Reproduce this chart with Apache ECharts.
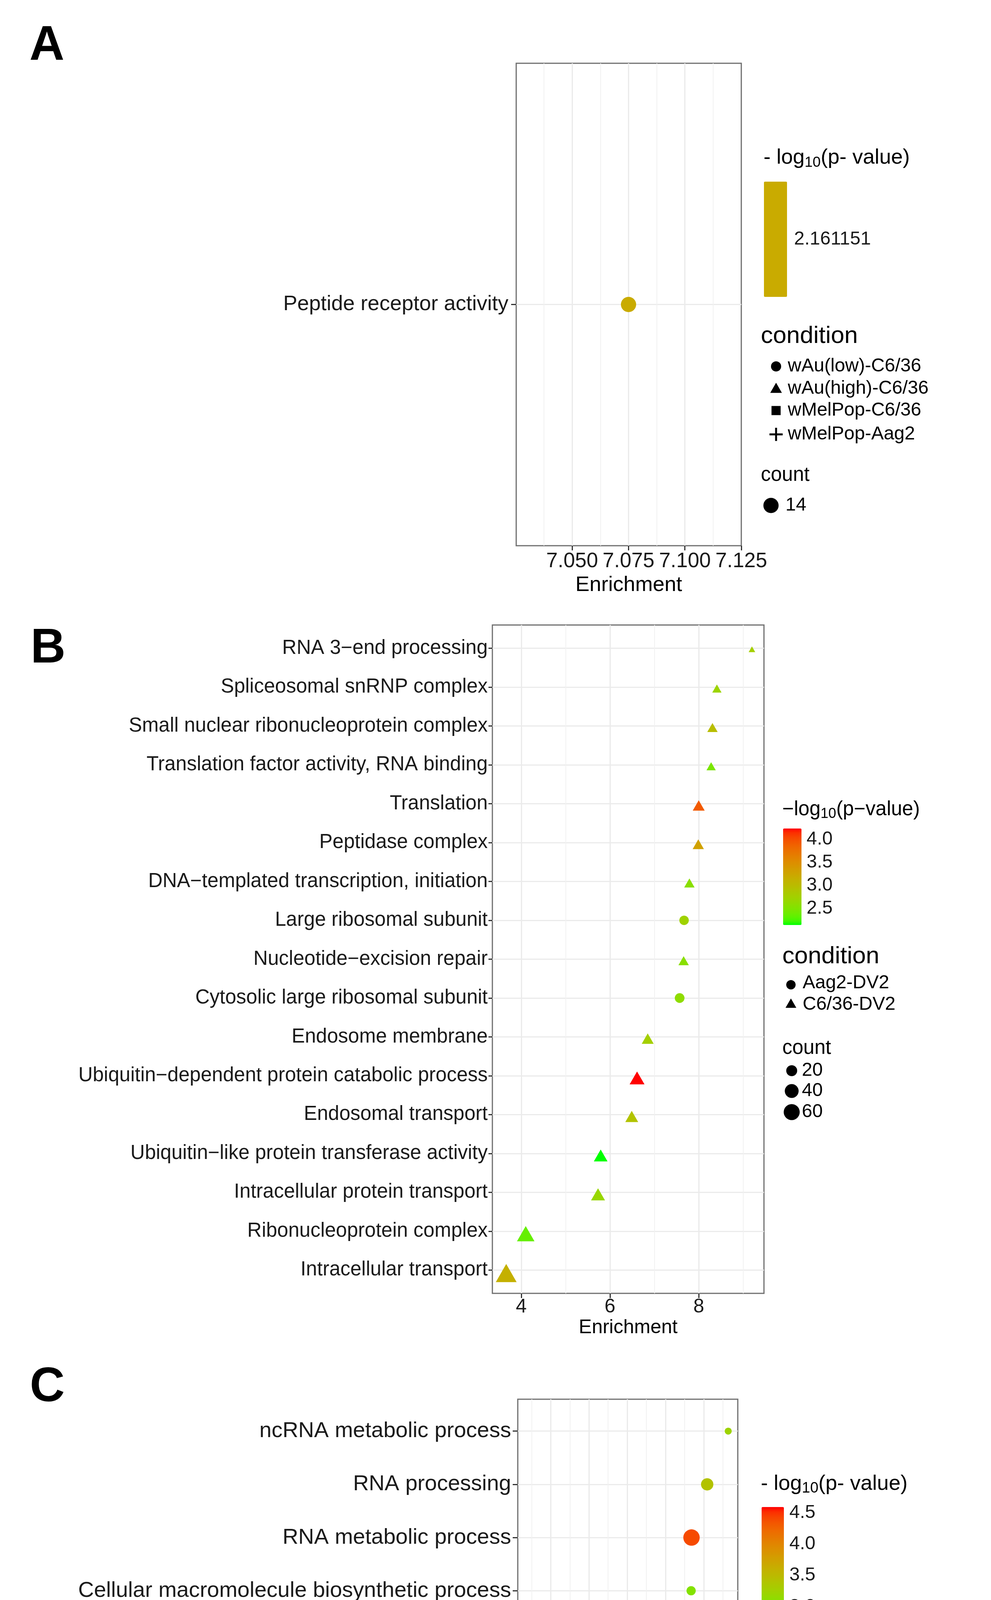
<!DOCTYPE html>
<html><head><meta charset="utf-8">
<script src="https://cdn.jsdelivr.net/npm/echarts@6/dist/echarts.min.js"></script>
<style>html,body{margin:0;padding:0;background:#fff}#c{width:2536px;height:5014px}</style>
</head><body><div id="c"></div>
<script>
// ================= DATA =================
// Panel A
const termsA = ['Peptide receptor activity'];
const enrichA = [7.075];
const pvalA = [2.161151];
const countA = [14];
const condA = [0];
const conditionsA = ['wAu(low)-C6/36', 'wAu(high)-C6/36', 'wMelPop-C6/36', 'wMelPop-Aag2'];
const xTicksA = [7.050, 7.075, 7.100, 7.125];
const pTicksA = [2.161151];
const countBreaksA = [14];

// Panel B
const termsB = ['RNA 3\u2212end processing', 'Spliceosomal snRNP complex', 'Small nuclear ribonucleoprotein complex',
  'Translation factor activity, RNA binding', 'Translation', 'Peptidase complex',
  'DNA\u2212templated transcription, initiation', 'Large ribosomal subunit', 'Nucleotide\u2212excision repair',
  'Cytosolic large ribosomal subunit', 'Endosome membrane', 'Ubiquitin\u2212dependent protein catabolic process',
  'Endosomal transport', 'Ubiquitin\u2212like protein transferase activity', 'Intracellular protein transport',
  'Ribonucleoprotein complex', 'Intracellular transport'];
const enrichB = [9.20, 8.41, 8.31, 8.28, 8.00, 7.99, 7.79, 7.67, 7.66, 7.57, 6.85, 6.61, 6.49, 5.79, 5.73, 4.10, 3.66];
const pvalB = [2.77, 2.70, 2.98, 2.46, 3.93, 3.30, 2.56, 2.73, 2.56, 2.60, 2.77, 4.24, 2.92, 2.14, 2.66, 2.35, 3.13];
const countB = [4, 6, 8, 6, 12, 10, 8, 13, 8, 14, 12, 23, 15, 18, 19, 37, 60];
const condB = [1, 1, 1, 1, 1, 1, 1, 0, 1, 0, 1, 1, 1, 1, 1, 1, 1];
const conditionsB = ['Aag2-DV2', 'C6/36-DV2'];
const xTicksB = [4, 6, 8];
const pTicksB = [2.5, 3.0, 3.5, 4.0];
const countBreaksB = [20, 40, 60];

// Panel C
const termsC = ['ncRNA metabolic process', 'RNA processing', 'RNA metabolic process',
  'Cellular macromolecule biosynthetic process', 'Gene expression', 'Macromolecule biosynthetic process',
  'Nuclear protein- containing complex', 'Nucleic acid metabolic process', 'Extracellular region'];
const enrichC = [5.64, 5.09, 4.68, 4.67, 4.54, 3.98, 3.99, 3.79, 0.38];
const pvalC = [3.22, 3.41, 4.40, 3.05, 4.21, 2.71, 3.39, 4.59, 3.41];
const countC = [17, 46, 108, 22, 132, 74, 132, 150, 128];
const condC = [0, 0, 0, 0, 0, 0, 0, 0, 0];
const conditionsC = ['wMelPop-C6/36-DV2', 'wAu(high)-C6/36-DV2', 'wAu(low)-C6/36-DV2', 'wMelPop-Aag2-DV2'];
const xTicksC = [1, 2, 3, 4, 5];
const pTicksC = [3.0, 3.5, 4.0, 4.5];
const countBreaksC = [100, 150];

// ================= STYLE / LAYOUT =================
const FONT = '"Liberation Sans", Arial, Helvetica, sans-serif';
const SHAPES = ['circle', 'triangle', 'rect', 'plus'];

function srgb2lin(c){c/=255;return c<=0.04045?c/12.92:Math.pow((c+0.055)/1.055,2.4);}
function lin2srgb(c){c=c<=0.0031308?12.92*c:1.055*Math.pow(Math.max(c,0),1/2.4)-0.055;return Math.round(Math.min(1,Math.max(0,c))*255);}
const WN=[0.95047,1,1.08883];
function fL(t){return t>0.008856?Math.cbrt(t):7.787*t+16/116;}
function fLi(t){const t3=t*t*t;return t3>0.008856?t3:(t-16/116)/7.787;}
function hex2rgb(h){return [1,3,5].map(k=>parseInt(h.slice(k,k+2),16));}
function rgb2lab(rgb){const [R,G,B]=rgb.map(srgb2lin);
  const X=0.4124564*R+0.3575761*G+0.1804375*B,Y=0.2126729*R+0.7151522*G+0.0721750*B,Z=0.0193339*R+0.1191920*G+0.9503041*B;
  const fx=fL(X/WN[0]),fy=fL(Y/WN[1]),fz=fL(Z/WN[2]);return [116*fy-16,500*(fx-fy),200*(fy-fz)];}
function lab2hex(lab){const [L,a,b]=lab;const fy=(L+16)/116,fx=fy+a/500,fz=fy-b/200;
  const X=WN[0]*fLi(fx),Y=WN[1]*fLi(fy),Z=WN[2]*fLi(fz);
  const R=3.2404542*X-1.5371385*Y-0.4985314*Z,G=-0.9692660*X+1.8760108*Y+0.0415560*Z,B=0.0556434*X-0.2040259*Y+1.0572252*Z;
  return '#'+[R,G,B].map(v=>lin2srgb(v).toString(16).padStart(2,'0')).join('');}
function labRamp(lo,hi,n){const A=rgb2lab(hex2rgb(lo)),B=rgb2lab(hex2rgb(hi));const out=[];
  for(let i=0;i<n;i++){const t=i/(n-1);out.push(lab2hex(A.map((v,k)=>v+(B[k]-v)*t)));}return out;}
const RAMP = labRamp('#00ff00', '#ff0000', 25);
const MID = labRamp('#00ff00', '#ff0000', 3)[1];

const panels = [
  { terms: termsA, x: enrichA, p: pvalA, n: countA, cond: condA, conds: conditionsA,
    xTicks: xTicksA, pTicks: pTicksA, breaks: countBreaksA, xStep: 0.025, xDec: 3, pDec: 6,
    grid: {left: 1321, top: 162, width: 576, height: 1235}, xRange: [7.0252, 7.125],
    cb: {left: 1955, top: 465, width: 59, height: 295, margin: 18},
    sizeRange: [39, 39], yFont: 54, xFont: 53, nameFont: 54, yMargin: 20, yTick: 13, xMargin: 14, nameGap: 74,
    letter: {t: 'A', x: 120, y: 119},
    leg: {titleX: 1954, titleY: 404, tSize: 54, sSize: 37, pre: '- log', post: '(p- value)',
      condX: 1947, condY: 861, symX: 1986, textX: 2016, itemY: [938, 995, 1051, 1112], symDY: [0, 2, 0, 0],
      symSize: 26, countX: 1947, countY: 1217, countFont: 51, dotX: 1973, dotTextX: 2010, dotY: [1294]} },
  { terms: termsB, x: enrichB, p: pvalB, n: countB, cond: condB, conds: conditionsB,
    xTicks: xTicksB, pTicks: pTicksB, breaks: countBreaksB, xStep: 2, xDec: 0, pDec: 1,
    grid: {left: 1260, top: 1600, width: 695, height: 1711}, xRange: [3.348, 9.471],
    cb: {left: 2004, top: 2121, width: 47, height: 247, margin: 13},
    sizeRange: [13, 41], yFont: 51, xFont: 50, nameFont: 50, yMargin: 12, yTick: 10, xMargin: 10, nameGap: 63,
    letter: {t: 'B', x: 123, y: 1662},
    leg: {titleX: 2002, titleY: 2073, tSize: 51, sSize: 36, pre: '\u2212log', post: '(p\u2212value)',
      condX: 2002, condY: 2449, symX: 2024, textX: 2054, itemY: [2517, 2572], symDY: [4, 0],
      symSize: 24, countX: 2002, countY: 2684, countFont: 51, dotX: 2026, dotTextX: 2052, dotY: [2741, 2793, 2847]} },
  { terms: termsC, x: enrichC, p: pvalC, n: countC, cond: condC, conds: conditionsC,
    xTicks: xTicksC, pTicks: pTicksC, breaks: countBreaksC, xStep: 1, xDec: 0, pDec: 1,
    grid: {left: 1325, top: 3582, width: 563, height: 1253}, xRange: [0.137, 5.89],
    cb: {left: 1949, top: 3858, width: 57, height: 302, margin: 14},
    sizeRange: [18, 47], yFont: 56, xFont: 54, nameFont: 55, yMargin: 17, yTick: 13, xMargin: 14, nameGap: 72,
    letter: {t: 'C', x: 121, y: 3553},
    leg: {titleX: 1947, titleY: 3799, tSize: 54, sSize: 38, pre: '- log', post: '(p- value)',
      condX: 1927, condY: 4264, symX: 1981, textX: 2010, itemY: [4346, 4405, 4460, 4518], symDY: [12, 2, 0, 0],
      symSize: 24, countX: 1931, countY: 4626, countFont: 56, dotX: 1962, dotTextX: 2012, dotY: [4707, 4769]} }
];

function sizeFn(P) {
  const cmin = Math.min(...P.n), cmax = Math.max(...P.n);
  const [dmin, dmax] = P.sizeRange;
  return c => cmax === cmin ? (dmin + dmax) / 2 : dmin + (dmax - dmin) * Math.sqrt(Math.max(0, (c - cmin) / (cmax - cmin)));
}

const AXC = '#333333';
const grids = [], xAxes = [], yAxes = [], series = [], visualMaps = [], graphics = [];

function T(x, y, text, size, extra) {
  return Object.assign({type: 'text', x, y, silent: true, z: 50,
    style: {text, fontSize: size, fontFamily: FONT, fill: '#000', align: 'left', verticalAlign: 'middle',
      textAlign: 'left', textVerticalAlign: 'middle'}}, extra || {});
}
function sym(shape, cx, cy, s) {
  const st = {fill: '#000'};
  if (shape === 'circle') return [{type: 'circle', silent: true, z: 50, shape: {cx, cy, r: s / 2}, style: st}];
  if (shape === 'triangle') { const b = s * 1.15, h = b * 0.866;
    return [{type: 'polygon', silent: true, z: 50, shape: {points: [[cx, cy - h * 2 / 3], [cx - b / 2, cy + h / 3], [cx + b / 2, cy + h / 3]]}, style: st}]; }
  if (shape === 'rect') { const q = s * 0.9; return [{type: 'rect', silent: true, z: 50, shape: {x: cx - q / 2, y: cy - q / 2, width: q, height: q}, style: st}]; }
  const L = s * 1.3, w = 5;
  return [{type: 'rect', silent: true, z: 50, shape: {x: cx - L / 2, y: cy - w / 2, width: L, height: w}, style: st},
          {type: 'rect', silent: true, z: 50, shape: {x: cx - w / 2, y: cy - L / 2, width: w, height: L}, style: st}];
}

panels.forEach((P, pi) => {
  const size = sizeFn(P);
  const nT = P.terms.length;
  const [xmin, xmax] = P.xRange;
  const eps = 1e-9;
  const gi = grids.length;
  grids.push(Object.assign({show: true, borderColor: '#6e6e6e', borderWidth: 3, backgroundColor: 'transparent', containLabel: false}, P.grid));
  const majors = P.xTicks.filter(v => v > xmin + eps && v < xmax - eps);
  const minors = [];
  [P.xTicks[0] - P.xStep].concat(P.xTicks).forEach(v => { const m = +(v + P.xStep / 2).toFixed(6); if (m > xmin + eps && m < xmax - eps) minors.push(m); });
  const xMain = xAxes.length;
  xAxes.push({gridIndex: gi, type: 'value', min: xmin, max: xmax, position: 'bottom',
    axisLine: {show: false, onZero: false},
    axisTick: {show: true, length: 12, customValues: P.xTicks, lineStyle: {color: AXC, width: 3}},
    axisLabel: {customValues: P.xTicks, fontSize: P.xFont, color: '#1a1a1a', margin: P.xMargin, fontFamily: FONT,
      formatter: v => (+v).toFixed(P.xDec)},
    splitLine: {show: false},
    name: 'Enrichment', nameLocation: 'middle', nameGap: P.nameGap,
    nameTextStyle: {fontSize: P.nameFont, color: '#000', fontFamily: FONT}});
  xAxes.push({gridIndex: gi, type: 'value', min: xmin, max: xmax, position: 'bottom',
    axisLine: {show: false, onZero: false}, axisLabel: {show: false},
    axisTick: {show: false, customValues: majors},
    splitLine: {show: true, customValues: majors, lineStyle: {color: '#ebebeb', width: 3.2}}});
  xAxes.push({gridIndex: gi, type: 'value', min: xmin, max: xmax, position: 'top',
    axisLine: {show: false, onZero: false}, axisLabel: {show: false},
    axisTick: {show: false, customValues: minors},
    splitLine: {show: true, customValues: minors, lineStyle: {color: '#f1f1f1', width: 2}}});
  const idx = P.terms.map((t, i) => i);
  const yMain = yAxes.length;
  yAxes.push({gridIndex: gi, type: 'value', min: -0.6, max: nT - 1 + 0.6, inverse: true, position: 'left',
    axisLine: {show: false, onZero: false},
    axisTick: {show: true, length: P.yTick, customValues: idx, lineStyle: {color: AXC, width: 3}},
    axisLabel: {customValues: idx, fontSize: P.yFont, color: '#1a1a1a', margin: P.yMargin, fontFamily: FONT,
      formatter: v => P.terms[Math.round(v)]},
    splitLine: {show: true, customValues: idx, lineStyle: {color: '#ebebeb', width: 3.2}}});

  const sIdx = [];
  P.conds.forEach((cName, ci) => {
    const members = idx.filter(i => P.cond[i] === ci);
    if (!members.length) return;
    const shape = SHAPES[ci];
    sIdx.push(series.length);
    series.push({type: 'scatter', name: cName, xAxisIndex: xMain, yAxisIndex: yMain, z: 5, silent: true,
      symbol: shape === 'plus' ? 'path://M-1,-0.15H1V0.15H-1Z M-0.15,-1H0.15V1H-0.15Z' : shape,
      itemStyle: {opacity: 1}, emphasis: {disabled: true},
      data: members.map(i => {
        const d = size(P.n[i]);
        const item = {value: [P.x[i], i, P.p[i], P.n[i]]};
        if (shape === 'triangle') { item.symbolSize = [d * 1.3, d * 1.13]; item.symbolOffset = [0, d * 1.13 / 6]; }
        else item.symbolSize = d;
        return item;
      })});
  });

  let pmin = Math.min(...P.p), pmax = Math.max(...P.p);
  let colors = RAMP;
  if (pmax - pmin < 1e-9) { pmin -= 0.05; pmax += 0.05; colors = [MID, MID]; }
  visualMaps.push({type: 'continuous', min: pmin, max: pmax, dimension: 2, seriesIndex: sIdx,
    orient: 'vertical', left: P.cb.left, top: P.cb.top, itemWidth: P.cb.width, itemHeight: P.cb.height,
    calculable: false, padding: 0, inRange: {color: colors}, showLabel: false, hoverLink: false});
  const cg = grids.length;
  grids.push({left: P.cb.left, top: P.cb.top, width: P.cb.width, height: P.cb.height, show: false});
  xAxes.push({gridIndex: cg, type: 'value', show: false, min: 0, max: 1, axisLine: {onZero: false}});
  yAxes.push({gridIndex: cg, type: 'value', min: pmin, max: pmax, position: 'right',
    axisLine: {show: false, onZero: false}, splitLine: {show: false},
    axisTick: {show: true, inside: true, length: 10, customValues: P.pTicks, lineStyle: {color: '#ffffff', width: 2}},
    axisLabel: {customValues: P.pTicks, fontSize: 48, color: '#1a1a1a', margin: P.cb.margin, fontFamily: FONT,
      formatter: v => (+v).toFixed(P.pDec)}});
  yAxes.push({gridIndex: cg, type: 'value', min: pmin, max: pmax, position: 'left',
    axisLine: {show: false, onZero: false}, splitLine: {show: false}, axisLabel: {show: false},
    axisTick: {show: true, inside: true, length: 10, customValues: P.pTicks, lineStyle: {color: '#ffffff', width: 2}}});

  graphics.push(T(P.letter.x, P.letter.y, P.letter.t, 124,
    {style: {text: P.letter.t, fontSize: 124, fontWeight: 'bold', fontFamily: FONT, fill: '#000',
      align: 'center', verticalAlign: 'middle', textAlign: 'center', textVerticalAlign: 'middle'}}));
  const L = P.leg;
  graphics.push({type: 'text', x: L.titleX, y: L.titleY, silent: true, z: 50,
    style: {text: '{m|' + L.pre + '}{s|10}{m|' + L.post + '}', align: 'left', verticalAlign: 'middle',
      textAlign: 'left', textVerticalAlign: 'middle',
      rich: {m: {fontSize: L.tSize, fontFamily: FONT, fill: '#000', lineHeight: Math.round(L.tSize * 1.15)},
             s: {fontSize: L.sSize, fontFamily: FONT, fill: '#000', verticalAlign: 'bottom', lineHeight: Math.round(L.sSize * 1.05)}}}});
  graphics.push(T(L.condX, L.condY, 'condition', 62));
  P.conds.forEach((cName, ci) => {
    graphics.push(...sym(SHAPES[ci], L.symX, L.itemY[ci] + L.symDY[ci], L.symSize));
    graphics.push(T(L.textX, L.itemY[ci], cName, 48));
  });
  graphics.push(T(L.countX, L.countY, 'count', L.countFont));
  P.breaks.forEach((b, k) => {
    graphics.push({type: 'circle', silent: true, z: 50, shape: {cx: L.dotX, cy: L.dotY[k], r: size(b) / 2}, style: {fill: '#000'}});
    graphics.push(T(L.dotTextX, L.dotY[k], String(b), 48));
  });
});

const chart = echarts.init(document.getElementById('c'), null, {renderer: 'canvas'});
chart.setOption({
  animation: false,
  backgroundColor: '#ffffff',
  textStyle: {fontFamily: FONT},
  grid: grids, xAxis: xAxes, yAxis: yAxes, series, visualMap: visualMaps, graphic: graphics
});
</script></body></html>
